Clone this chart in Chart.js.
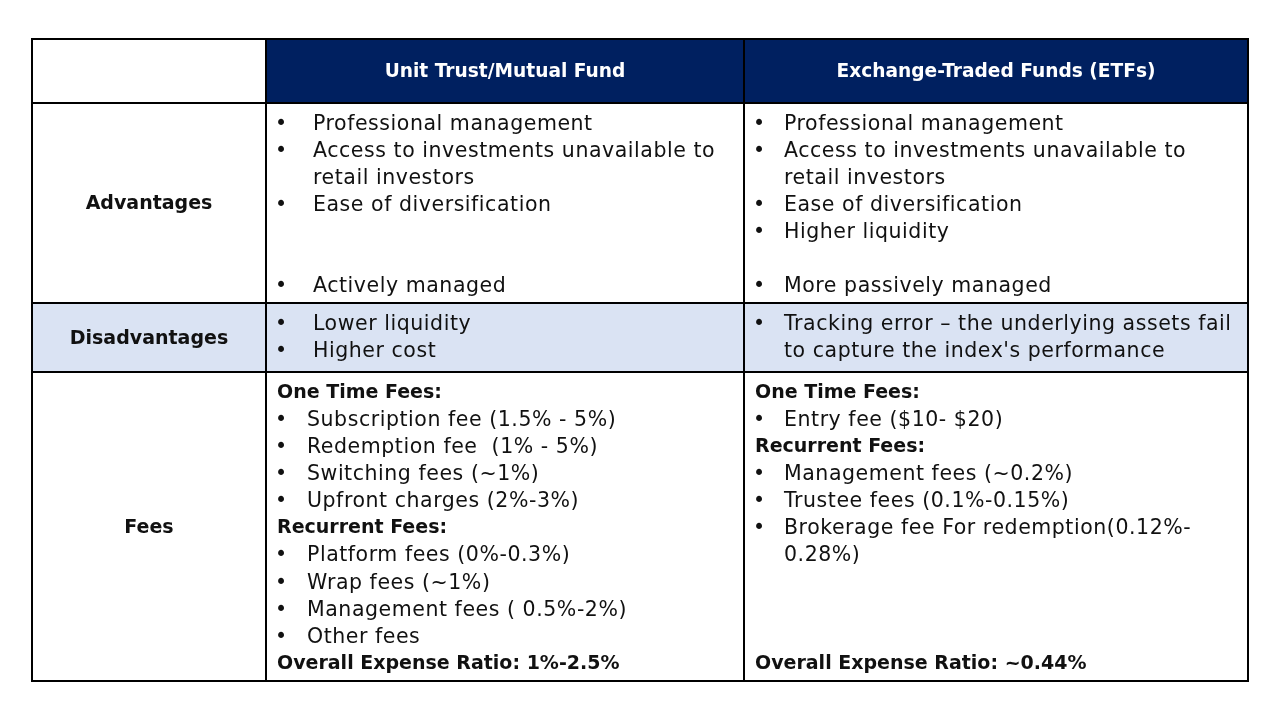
<!DOCTYPE html>
<html>
<head>
<meta charset="utf-8">
<script src="https://cdn.jsdelivr.net/npm/chart.js@4.4.1/dist/chart.umd.min.js"></script>
<style>
  html, body { margin: 0; background: #fff; }
  #wrap { width: 1280px; height: 720px; }
</style>
</head>
<body>
<div id="wrap"><canvas id="table"></canvas></div>
<script>
// table content ("• " = bullet, "  " = continued line, "**" = bold line, "" = empty line)
const columnHeaders = ['Unit Trust/Mutual Fund', 'Exchange-Traded Funds (ETFs)'];
const rowLabels = ['Advantages', 'Disadvantages', 'Fees'];

const advantagesUT = [
    '• Professional management',
    '• Access to investments unavailable to',
    '  retail investors',
    '• Ease of diversification',
    '',
    '',
    '• Actively managed'
];
const advantagesETF = [
    '• Professional management',
    '• Access to investments unavailable to',
    '  retail investors',
    '• Ease of diversification',
    '• Higher liquidity',
    '',
    '• More passively managed'
];
const disadvantagesUT = [
    '• Lower liquidity',
    '• Higher cost'
];
const disadvantagesETF = [
    '• Tracking error \u2013 the underlying assets fail',
    '  to capture the index\'s performance'
];
const feesUT = [
    '**One Time Fees:',
    '• Subscription fee (1.5% - 5%)',
    '• Redemption fee  (1% - 5%)',
    '• Switching fees (~1%)',
    '• Upfront charges (2%-3%)',
    '**Recurrent Fees:',
    '• Platform fees (0%-0.3%)',
    '• Wrap fees (~1%)',
    '• Management fees ( 0.5%-2%)',
    '• Other fees',
    '**Overall Expense Ratio: 1%-2.5%'
];
const feesETF = [
    '**One Time Fees:',
    '• Entry fee ($10- $20)',
    '**Recurrent Fees:',
    '• Management fees (~0.2%)',
    '• Trustee fees (0.1%-0.15%)',
    '• Brokerage fee For redemption(0.12%-',
    '  0.28%)',
    '',
    '',
    '',
    '**Overall Expense Ratio: ~0.44%'
];

const cells = [
    [advantagesUT, advantagesETF],
    [disadvantagesUT, disadvantagesETF],
    [feesUT, feesETF]
];

// layout (in scale units = page pixels)
const colEdges = [32, 266, 744, 1248];
const rowEdges = [39, 103, 303, 372, 681];
const textIndent = [[47, 40], [47, 40], [41, 40]];
const lineGap = 27.1;

const BODY_FONT = '"DejaVu Sans", sans-serif';

const tablePlugin = {
    id: 'tableDraw',
    afterDraw(chart) {
        const ctx = chart.ctx;
        const x = v => chart.scales.x.getPixelForValue(v);
        const y = v => chart.scales.y.getPixelForValue(v);

        ctx.save();
        // header fill
        ctx.fillStyle = '#002060';
        ctx.fillRect(x(colEdges[1]), y(rowEdges[0]), x(colEdges[3]) - x(colEdges[1]), y(rowEdges[1]) - y(rowEdges[0]));
        // disadvantages row fill
        ctx.fillStyle = '#dae3f3';
        ctx.fillRect(x(colEdges[0]), y(rowEdges[2]), x(colEdges[3]) - x(colEdges[0]), y(rowEdges[3]) - y(rowEdges[2]));

        // grid lines
        ctx.strokeStyle = '#000';
        ctx.lineWidth = 2;
        ctx.beginPath();
        rowEdges.forEach(r => {
            ctx.moveTo(x(colEdges[0]) - 1, y(r));
            ctx.lineTo(x(colEdges[3]) + 1, y(r));
        });
        colEdges.forEach(c => {
            ctx.moveTo(x(c), y(rowEdges[0]));
            ctx.lineTo(x(c), y(rowEdges[rowEdges.length - 1]));
        });
        ctx.stroke();

        ctx.textBaseline = 'middle';

        // column headers
        ctx.fillStyle = '#fff';
        ctx.textAlign = 'center';
        ctx.font = 'bold 18.6px ' + BODY_FONT;
        columnHeaders.forEach((h, i) => {
            ctx.fillText(h, x((colEdges[i + 1] + colEdges[i + 2]) / 2), y((rowEdges[0] + rowEdges[1]) / 2) + 1);
        });

        // row labels
        ctx.fillStyle = '#111';
        ctx.font = 'bold 19px ' + BODY_FONT;
        rowLabels.forEach((l, i) => {
            ctx.fillText(l, x((colEdges[0] + colEdges[1]) / 2), y((rowEdges[i + 1] + rowEdges[i + 2]) / 2) + 1.5);
        });

        // body cells
        ctx.textAlign = 'left';
        cells.forEach((row, ri) => {
            row.forEach((lines, ci) => {
                const left = colEdges[ci + 1];
                const top = rowEdges[ri + 1] + 21.5;
                lines.forEach((line, li) => {
                    const ly = y(top + li * lineGap);
                    if (line.startsWith('**')) {
                        ctx.letterSpacing = '0px';
                        ctx.font = 'bold 19px ' + BODY_FONT;
                        ctx.fillText(line.slice(2), x(left + 11), ly - 0.5);
                    } else if (line.length) {
                        ctx.font = '20.5px ' + BODY_FONT;
                        if (line.startsWith('• ')) {
                            ctx.letterSpacing = '0px';
                            ctx.fillText('•', x(left + 9), ly);
                        }
                        ctx.letterSpacing = '0.55px';
                        ctx.fillText(line.slice(2), x(left + textIndent[ri][ci]), ly);
                    }
                });
            });
        });
        ctx.restore();
    }
};

new Chart(document.getElementById('table'), {
    type: 'scatter',
    data: { datasets: [] },
    options: {
        responsive: true,
        maintainAspectRatio: false,
        animation: false,
        layout: { padding: 0 },
        plugins: { legend: { display: false }, tooltip: { enabled: false } },
        scales: {
            x: { type: 'linear', min: 0, max: 1280, display: false },
            y: { type: 'linear', min: 0, max: 720, reverse: true, display: false }
        }
    },
    plugins: [tablePlugin]
});
</script>
</body>
</html>
